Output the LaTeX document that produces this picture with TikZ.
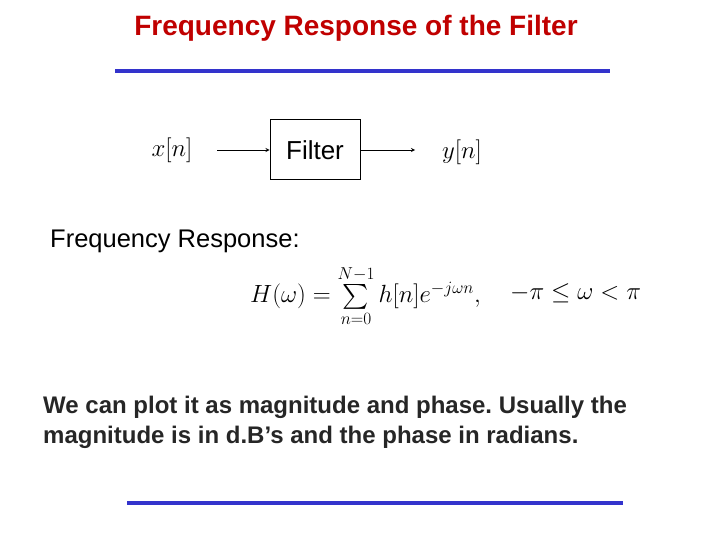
\documentclass[tikz,border=0pt]{standalone}
\usepackage{fontspec}
\setmainfont{Liberation Sans}
\usepackage{amsmath}
\definecolor{ttl}{RGB}{192,0,0}
\definecolor{bar}{RGB}{51,51,204}
\begin{document}
\begin{tikzpicture}[x=1pt,y=-1pt,
  txt/.style={inner sep=0pt,font=\fontsize{25.5}{30}\selectfont},
  bluebar/.style={draw=bar,line width=4pt},
  sig/.style={-stealth,line width=0.8pt}]
\useasboundingbox (0,0) rectangle (720,540);
\node[inner sep=0pt,text=ttl,font=\bfseries\fontsize{28}{32}\selectfont] (title) at (356,28) {Frequency Response of the Filter};
\coordinate (b1) at (115,71); \coordinate (b2) at (610,71);
\draw[bluebar] (b1) -- (b2);
\node[draw,line width=1pt,minimum width=90pt,minimum height=60pt,txt,font=\fontsize{26}{30}\selectfont] (f) at (315,150) {Filter};
\node[inner sep=0pt,font=\fontsize{26.5}{30}\selectfont] (x) at (172,150) {$x[n]$};
\node[inner sep=0pt,font=\fontsize{26.5}{30}\selectfont] (y) at (462,152) {$y[n]$};
\coordinate (xs) at (217,150);
\coordinate (ye) at (415,150);
\draw[sig] (xs) -- (f.west);
\draw[sig] (f.east) -- (ye);
\node[txt,anchor=west] (fr) at (50,241) {Frequency Response:};
\node[inner sep=0pt,anchor=west,font=\fontsize{25.5}{30}\selectfont] (eq) at (250,296) {$H(\omega)=\sum\limits_{n=0}^{N-1} h[n]e^{-j\omega n},$};
\node[inner sep=0pt,anchor=west,font=\fontsize{26.5}{30}\selectfont] (rg) at (510,293) {$-\pi\le\omega<\pi$};
\node[inner sep=0pt,anchor=north west,align=left,font=\bfseries\fontsize{24}{30}\selectfont,text=black!85] (p) at (43,396) {We can plot it as magnitude and phase.\ Usually the\\magnitude is in d.B’s and the phase in radians.};
\coordinate (c1) at (127,503); \coordinate (c2) at (623,503);
\draw[bluebar] (c1) -- (c2);
\end{tikzpicture}
\end{document}
